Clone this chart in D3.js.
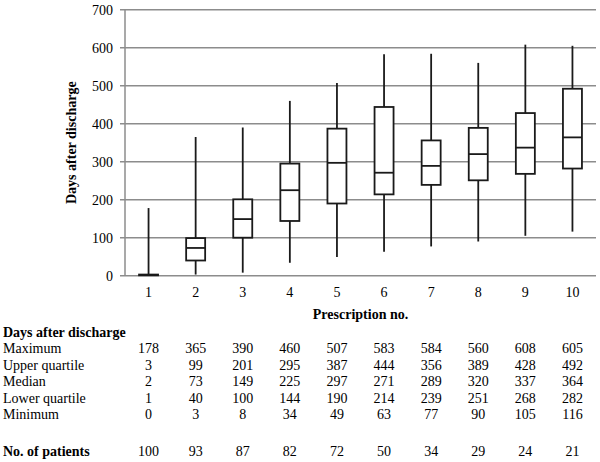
<!DOCTYPE html>
<html>
<head>
<meta charset="utf-8">
<script src="https://cdn.jsdelivr.net/npm/d3@7"></script>
<style>
  html, body { margin: 0; padding: 0; background: #fff; }
  svg { display: block; }
  text { font-family: "Liberation Serif", "Times New Roman", serif; fill: #000; }
</style>
</head>
<body>
<div id="chart"></div>
<script>
const categories = ["1", "2", "3", "4", "5", "6", "7", "8", "9", "10"];
const maximum = [178, 365, 390, 460, 507, 583, 584, 560, 608, 605];
const upperQuartile = [3, 99, 201, 295, 387, 444, 356, 389, 428, 492];
const median = [2, 73, 149, 225, 297, 271, 289, 320, 337, 364];
const lowerQuartile = [1, 40, 100, 144, 190, 214, 239, 251, 268, 282];
const minimum = [0, 3, 8, 34, 49, 63, 77, 90, 105, 116];
const patients = [100, 93, 87, 82, 72, 50, 34, 29, 24, 21];
const yTicks = [0, 100, 200, 300, 400, 500, 600, 700];
const rowLabels = ["Maximum", "Upper quartile", "Median", "Lower quartile", "Minimum"];

(function () {
const W = 600, H = 462;
const svg = d3.select("#chart").append("svg").attr("width", W).attr("height", H);

const pLeft = 125, pRight = 596, pTop = 9.7, pBottom = 275.7;
const x = d3.scaleBand().domain(categories).range([pLeft, pRight]).padding(0);
const y = d3.scaleLinear().domain([0, 700]).range([pBottom, pTop]);

// gridlines
svg.append("g").selectAll("line").data(yTicks).join("line")
  .attr("x1", pLeft - 5).attr("x2", pRight)
  .attr("y1", d => y(d)).attr("y2", d => y(d))
  .attr("stroke", "#8c8c8c").attr("stroke-width", 1.5);

// y axis line
svg.append("line").attr("x1", pLeft).attr("x2", pLeft).attr("y1", y(700)).attr("y2", y(0))
  .attr("stroke", "#8c8c8c").attr("stroke-width", 1.5);

// y tick labels
svg.append("g").selectAll("text").data(yTicks).join("text")
  .attr("x", 113).attr("y", d => y(d)).attr("dy", "0.35em")
  .attr("text-anchor", "end").attr("font-size", 14).text(d => d);

// y title
svg.append("text")
  .attr("transform", `translate(76,${(pTop + pBottom) / 2}) rotate(-90)`)
  .attr("text-anchor", "middle").attr("font-size", 14).attr("font-weight", "bold")
  .text("Days after discharge");

// x tick labels
svg.append("g").selectAll("text").data(categories).join("text")
  .attr("x", d => x(d) + x.bandwidth() / 2).attr("y", 297)
  .attr("text-anchor", "middle").attr("font-size", 14).text(d => d);

// x title
svg.append("text").attr("x", (pLeft + pRight) / 2).attr("y", 319)
  .attr("text-anchor", "middle").attr("font-size", 14).attr("font-weight", "bold")
  .text("Prescription no.");

// boxes
const bw = 19;
const data = categories.map((c, i) => ({
  c, max: maximum[i], q3: upperQuartile[i], med: median[i], q1: lowerQuartile[i], min: minimum[i]
}));
const g = svg.append("g").selectAll("g").data(data).join("g")
  .attr("transform", d => `translate(${x(d.c) + x.bandwidth() / 2},0)`);
g.append("line").attr("x1", 0).attr("x2", 0)
  .attr("y1", d => y(d.max)).attr("y2", d => y(d.min))
  .attr("stroke", "#1a1a1a").attr("stroke-width", 1.8);
g.append("rect").attr("x", -bw / 2).attr("width", bw)
  .attr("y", d => y(d.q3)).attr("height", d => y(d.q1) - y(d.q3))
  .attr("fill", "#fff").attr("stroke", "#1a1a1a").attr("stroke-width", 1.8);
g.append("line").attr("x1", -bw / 2).attr("x2", bw / 2)
  .attr("y1", d => y(d.med)).attr("y2", d => y(d.med))
  .attr("stroke", "#1a1a1a").attr("stroke-width", 1.8);

// table
svg.append("text").attr("x", 3).attr("y", 337).attr("font-size", 14).attr("font-weight", "bold")
  .text("Days after discharge");
const rows = [maximum, upperQuartile, median, lowerQuartile, minimum];
const rowY = [353, 369.5, 386, 402.5, 419];
rows.forEach((vals, r) => {
  svg.append("text").attr("x", 3).attr("y", rowY[r]).attr("font-size", 14).text(rowLabels[r]);
  svg.append("g").selectAll("text").data(vals).join("text")
    .attr("x", (d, i) => x(categories[i]) + x.bandwidth() / 2).attr("y", rowY[r])
    .attr("text-anchor", "middle").attr("font-size", 14).text(d => d);
});
svg.append("text").attr("x", 3).attr("y", 456).attr("font-size", 14).attr("font-weight", "bold")
  .text("No. of patients");
svg.append("g").selectAll("text").data(patients).join("text")
  .attr("x", (d, i) => x(categories[i]) + x.bandwidth() / 2).attr("y", 456)
  .attr("text-anchor", "middle").attr("font-size", 14).text(d => d);
})();
</script>
</body>
</html>
